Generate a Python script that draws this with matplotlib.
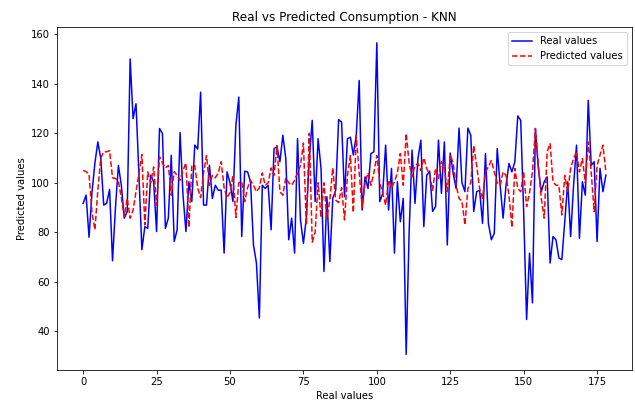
import matplotlib
matplotlib.use("Agg")
import matplotlib.pyplot as plt
import numpy as np

real_values = [
    91.7, 95, 78, 96, 108, 116.5, 109.8, 91, 91.7, 97.3,
    68.5, 90, 107, 99, 85.7, 88.4, 150, 125.9, 131.9, 103,
    73, 82.3, 81.6, 103.1, 100.4, 80.3, 121.9, 119.9, 81.6, 85.7,
    111.1, 76.3, 81, 120.3, 95, 80.3, 100.4, 92.4, 115.2, 113.6,
    136.6, 91, 91, 107.1, 93.7, 99, 97, 97, 71.6, 104.4,
    100, 92.4, 123.2, 134.6, 78.3, 104.7, 104.4, 100.4, 74.9, 67.6,
    45.4, 99, 97.7, 99, 81, 113.8, 114.5, 108.5, 119.2, 109.8,
    77, 85.7, 71.6, 117.9, 85, 75.6, 85.7, 109.8, 125.2, 92.4,
    117.8, 105.8, 64.2, 94.4, 68.2, 93.7, 97, 125.5, 124.5, 94.4,
    117.8, 118.4, 111.2, 119.2, 141.3, 89, 102.4, 97.7, 111.8, 112.5,
    156.5, 92.4, 95.7, 115.2, 89, 105.8, 71.6, 100.4, 84.3, 93.7,
    30.7, 80, 113.2, 91.7, 109.8, 117.2, 82.3, 103.1, 104.7, 88.4,
    90.4, 117.2, 95.7, 116.5, 74.9, 112, 103.8, 97.7, 122.1, 100,
    96.4, 122.1, 119.2, 88.4, 96.4, 97, 83.6, 111.8, 83.6, 77,
    79.6, 113.8, 99, 85.7, 99, 107.8, 104.4, 108.5, 127, 125.2,
    88.4, 44.8, 71.6, 51.5, 121.9, 106, 96.4, 100.4, 102.4, 67.6,
    78.3, 77, 69.6, 69, 84.3, 100.4, 78.3, 99, 115.2, 77.6,
    100.4, 95, 133.3, 107, 108.5, 76.3, 105.8, 96.4, 103.1,
]

predicted_values = [
    105, 104.5, 103.5, 88, 81, 97, 110, 112.5, 112.5, 113,
    102, 101.8, 100.5, 94, 86.3, 93.7, 85.7, 89, 96.4, 104,
    111.4, 83, 104.4, 100, 106.4, 91, 110.5, 108, 106, 107,
    95, 104.5, 103, 101, 105, 108, 82, 107, 107, 98,
    94, 104, 111, 99, 103, 102, 104, 108.5, 98, 94,
    96, 103, 86, 100, 100.5, 92.4, 98, 101, 99, 96.4,
    98, 104, 99, 100, 106, 103, 115, 96.4, 95, 102,
    100, 99, 101, 104, 107, 116, 83, 120, 76, 80,
    100, 86, 100, 86, 93, 106, 93, 92, 98, 85,
    103, 111, 88, 119, 104, 90, 100, 104, 99, 104,
    111, 100, 96, 91, 101, 98, 100.4, 104, 111.8, 99,
    119.9, 108, 102.4, 107, 107.8, 105, 110, 105.8, 103, 97,
    105.8, 101.8, 108.5, 106, 96.4, 111.2, 108, 99, 93.7, 92.5,
    83, 97.7, 100, 115, 107, 97.7, 93.7, 104.4, 106.4, 109,
    104.4, 100, 99, 104.4, 103, 95, 82, 105.8, 97.7, 96.4,
    104.4, 90.4, 96, 104.4, 121.9, 107, 93.7, 85.7, 112.5, 115.8,
    100.4, 99, 99, 87, 103, 96.4, 105.8, 109.8, 112.5, 104.4,
    109.8, 100, 116.5, 104.4, 88.4, 107, 111.2, 115.2, 104.4,
]

x = np.arange(len(real_values))

DPI = 72
fig = plt.figure(figsize=(635 / DPI, 407 / DPI), dpi=DPI)
ax = fig.add_axes([0.0898, 0.0909, 0.9055, 0.8421])
ax.plot(x, real_values, color='blue', linestyle='-', label='Real values')
ax.plot(x, predicted_values, color='red', linestyle='--', label='Predicted values')
ax.set_title('Real vs Predicted Consumption - KNN')
ax.set_xlabel('Real values')
ax.set_ylabel('Predicted values')
ax.legend(loc='upper right')
fig.savefig('out.png', dpi=DPI)
